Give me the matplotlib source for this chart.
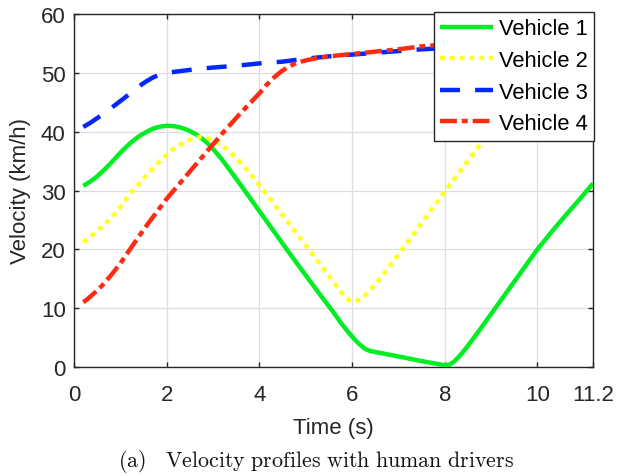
import matplotlib
matplotlib.use("Agg")
import matplotlib.pyplot as plt

# ---- data ----
t1 = [0.2, 0.35, 0.5, 0.65, 0.8, 0.95, 1.1, 1.25, 1.4, 1.55, 1.7, 1.85, 2.0, 2.15,
      2.3, 2.45, 2.6, 2.75, 2.9, 3.05, 3.2, 3.35, 3.5, 3.8, 4.1, 4.4, 4.7, 5.0,
      5.3, 5.6, 5.75, 5.9, 6.0, 6.1, 6.2, 6.3, 6.4, 7.0, 7.5, 8.0, 8.1, 8.2, 8.3,
      8.4, 8.5, 8.8, 9.1, 9.4, 9.7, 10.0, 10.3, 10.6, 10.9, 11.2]
v1 = [30.8, 31.5, 32.4, 33.5, 34.7, 36.0, 37.2, 38.3, 39.2, 39.9, 40.5, 40.85, 41.0,
      40.95, 40.7, 40.3, 39.7, 38.9, 37.9, 36.6, 35.2, 33.6, 32.0, 28.7, 25.4,
      22.1, 18.8, 15.6, 12.4, 9.3, 7.6, 6.1, 5.2, 4.3, 3.6, 3.0, 2.7, 1.8, 1.0,
      0.3, 0.4, 0.9, 1.7, 2.6, 3.6, 6.8, 10.1, 13.4, 16.7, 20.0, 22.9, 25.7,
      28.4, 31.2]

t2 = [0.2, 0.5, 0.8, 1.0, 1.2, 1.5, 1.8, 2.1, 2.25, 2.4, 2.55, 2.7, 2.85, 3.0, 3.15,
      3.3, 3.45, 3.6, 3.8, 4.0, 4.3, 4.6, 4.9, 5.2, 5.5, 5.65, 5.8, 5.95, 6.05,
      6.15, 6.3, 6.45, 6.6, 6.8, 7.0, 7.3, 7.6, 8.0, 8.4, 8.8, 9.2, 9.6, 10.0,
      10.5, 11.2]
v2 = [21.2, 23.1, 25.3, 27.2, 29.4, 32.0, 34.6, 36.8, 37.6, 38.3, 38.8, 39.1, 39.0,
      38.6, 37.9, 37.0, 35.9, 34.7, 32.9, 30.9, 27.9, 24.8, 21.7, 18.6, 15.5,
      13.9, 12.4, 11.3, 11.1, 11.4, 12.3, 13.6, 15.0, 17.0, 19.1, 22.3, 25.5,
      29.8, 34.0, 38.2, 42.2, 45.5, 48.0, 50.0, 51.0]

t3 = [0.2, 0.35, 0.5, 0.65, 0.8, 0.95, 1.1, 1.25, 1.4, 1.55, 1.7, 1.85, 2.0, 2.2,
      2.5, 3.0, 3.5, 4.0, 4.5, 5.0, 5.5, 6.0, 6.5, 7.0, 7.5, 8.0, 9.0, 10.0, 11.2]
v3 = [40.8, 41.5, 42.3, 43.1, 44.0, 44.9, 45.8, 46.8, 47.7, 48.5, 49.2, 49.7, 50.0,
      50.2, 50.5, 50.9, 51.2, 51.6, 51.9, 52.4, 52.8, 53.1, 53.4, 53.7, 54.0,
      54.2, 54.6, 55.0, 55.3]

t4 = [0.2, 0.3, 0.4, 0.5, 0.6, 0.7, 0.8, 0.9, 1.0, 1.2, 1.4, 1.6, 1.8, 2.0, 2.4,
      2.8, 3.2, 3.6, 4.0, 4.15, 4.3, 4.45, 4.6, 4.75, 4.9, 5.05, 5.25, 5.5, 6.0,
      6.5, 7.0, 7.5, 8.0, 9.0, 10.0, 11.2]
v4 = [11.0, 11.6, 12.3, 13.0, 13.8, 14.7, 15.6, 16.6, 17.6, 19.9, 22.2, 24.4, 26.5,
      28.6, 32.3, 36.0, 39.7, 43.2, 46.5, 47.9, 49.1, 50.1, 50.9, 51.5, 51.9,
      52.2, 52.5, 52.8, 53.2, 53.6, 54.0, 54.5, 54.8, 55.2, 55.6, 56.0]

labels = ["Vehicle 1", "Vehicle 2", "Vehicle 3", "Vehicle 4"]
xticks = [0, 2, 4, 6, 8, 10, 11.2]
xticklabels = ["0", "2", "4", "6", "8", "10", "11.2"]
yticks = [0, 10, 20, 30, 40, 50, 60]

plt.rcParams['font.family'] = ['Liberation Sans', 'DejaVu Sans']
plt.rcParams['mathtext.fontset'] = 'cm'

fig = plt.figure(figsize=(6.19, 4.77), dpi=100)
ax = fig.add_axes([74/619, 1 - 368/477, (593-74)/619, (368-15)/477])

lw = 3.2
ax.plot(t1, v1, color='#00ee22', lw=lw, solid_capstyle='butt', solid_joinstyle='round',
        label=labels[0], zorder=3)
ax.plot(t2, v2, color='#ffff22', lw=lw, dashes=(1.1, 1.1), dash_capstyle='butt',
        label=labels[1], zorder=3)
ax.plot(t3, v3, color='#0027ff', lw=lw, dashes=(4.5, 3.4), dash_capstyle='butt',
        label=labels[2], zorder=3)
ax.plot(t4, v4, color='#ff2a12', lw=lw, dashes=(3.8, 1.1, 1.35, 1.1), dash_capstyle='butt',
        label=labels[3], zorder=3)

ax.set_xlim(0, 11.2)
ax.set_ylim(0, 60)
ax.set_xticks(xticks)
ax.set_xticklabels(xticklabels)
ax.set_yticks(yticks)

ax.grid(True, color='#dedede', lw=0.9)
ax.set_axisbelow(True)
for s in ax.spines.values():
    s.set_color('#262626')
    s.set_linewidth(1.0)
ax.tick_params(direction='in', length=3.6, width=1.0, color='#262626',
               top=True, right=True, labelsize=16, labelcolor='#262626')
ax.tick_params(axis='x', pad=12)
ax.tick_params(axis='y', pad=6)

ax.set_xlabel("Time (s)", fontsize=16, color='#262626', labelpad=9)
ax.set_ylabel("Velocity (km/h)", fontsize=16, color='#262626', labelpad=7)

leg = ax.legend(loc='upper right', bbox_to_anchor=(1.002, 1.006), fontsize=15.8,
                frameon=True, fancybox=False, framealpha=1.0, edgecolor='#262626',
                handlelength=2.4, handletextpad=0.25, labelspacing=0.48,
                borderpad=0.3, borderaxespad=0.0)
leg.get_frame().set_linewidth(1.0)
leg.set_zorder(5)

fig.text(316/619, 1 - 462/477, r'$\mathrm{(a)\quad Velocity\ profiles\ with\ human\ drivers}$',
         ha='center', va='center', fontsize=15.8, color='#111111')

fig.savefig("out.png", dpi=100)
